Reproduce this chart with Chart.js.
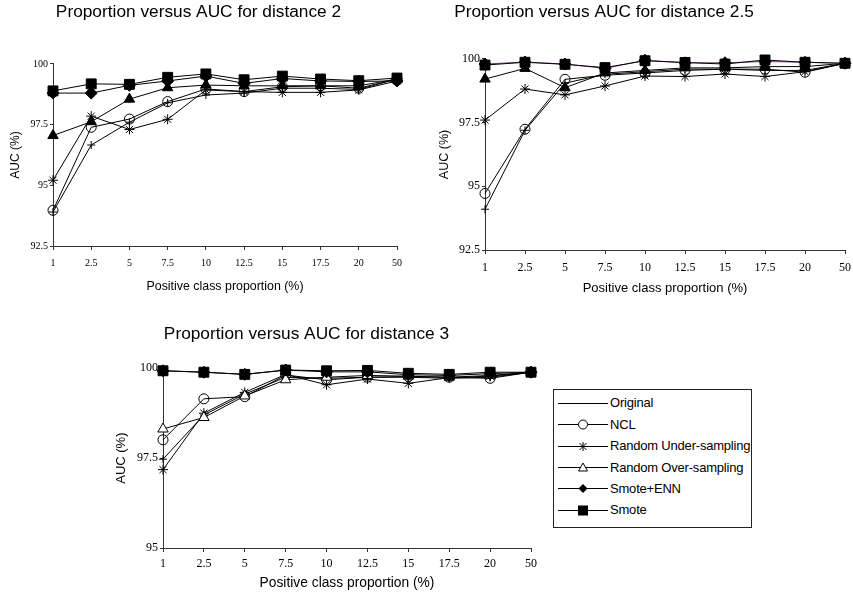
<!DOCTYPE html>
<html>
<head>
<meta charset="utf-8">
<script src="https://cdn.jsdelivr.net/npm/chart.js@4.4.1/dist/chart.umd.min.js"></script>
<style>
  html, body { margin:0; padding:0; background:#fff; width:853px; height:593px; overflow:hidden; position:relative; }
  canvas { position:absolute; }
  #legend { position:absolute; left:553px; top:389px; width:199px; height:139px; border:1px solid #222; box-sizing:border-box; font-family:Arial, "Liberation Sans", sans-serif; font-size:13px; letter-spacing:-0.2px; color:#000; }
  .row { position:absolute; left:0; height:18px; display:flex; align-items:center; }
  .row svg { margin-left:3px; }
  .row span { margin-left:1px; white-space:nowrap; }
</style>
</head>
<body>
<canvas id="c1"></canvas>
<canvas id="c2"></canvas>
<canvas id="c3"></canvas>
<div id="legend"></div>
<script>
// ---------- DATA ----------
const categories = ['1', '2.5', '5', '7.5', '10', '12.5', '15', '17.5', '20', '50'];
const seriesNames = ['Original', 'NCL', 'Random Under-sampling', 'Random Over-sampling', 'Smote+ENN', 'Smote'];
const titles = ['Proportion versus AUC for distance 2', 'Proportion versus AUC for distance 2.5', 'Proportion versus AUC for distance 3'];
const xAxisTitle = 'Positive class proportion (%)';
const yAxisTitle = 'AUC (%)';

// distance 2
const original2 = [93.9, 96.66, 97.6, 98.4, 98.72, 98.8, 99.0, 99.0, 98.95, 99.38];
const ncl2      = [93.97, 97.39, 97.73, 98.45, 98.97, 98.86, 99.06, 99.1, 99.0, 99.38];
const under2    = [95.21, 97.85, 97.3, 97.72, 98.93, 98.86, 98.83, 98.83, 98.93, 99.3];
const over2     = [97.05, 97.62, 98.55, 99.02, 99.13, 99.1, 99.1, 99.1, 99.1, 99.38];
const enn2      = [98.8, 98.8, 99.12, 99.3, 99.5, 99.2, 99.4, 99.3, 99.28, 99.3];
const smote2    = [98.89, 99.18, 99.16, 99.45, 99.59, 99.35, 99.5, 99.38, 99.31, 99.42];

// distance 2.5
const original25 = [94.1, 97.2, 99.05, 99.4, 99.5, 99.6, 99.6, 99.55, 99.55, 99.83];
const ncl25      = [94.72, 97.24, 99.2, 99.36, 99.45, 99.55, 99.6, 99.6, 99.48, 99.83];
const under25    = [97.6, 98.82, 98.59, 98.94, 99.33, 99.31, 99.41, 99.31, 99.5, 99.83];
const over25     = [99.21, 99.63, 98.87, 99.45, 99.55, 99.65, 99.65, 99.7, 99.7, 99.83];
const enn25      = [99.8, 99.88, 99.8, 99.63, 99.95, 99.85, 99.85, 99.9, 99.87, 99.83];
const smote25    = [99.76, 99.87, 99.79, 99.66, 99.93, 99.86, 99.8, 99.96, 99.87, 99.83];

// distance 3
const original3 = [97.47, 98.7, 99.28, 99.75, 99.72, 99.75, 99.75, 99.72, 99.75, 99.89];
const ncl3      = [98.01, 99.15, 99.21, 99.81, 99.68, 99.75, 99.77, 99.75, 99.72, 99.89];
const under3    = [97.18, 98.75, 99.33, 99.83, 99.54, 99.7, 99.58, 99.74, 99.78, 99.89];
const over3     = [98.31, 98.63, 99.23, 99.68, 99.75, 99.8, 99.78, 99.75, 99.8, 99.89];
const enn3      = [99.93, 99.89, 99.83, 99.95, 99.9, 99.9, 99.82, 99.8, 99.85, 99.89];
const smote3    = [99.93, 99.89, 99.83, 99.95, 99.93, 99.94, 99.86, 99.83, 99.89, 99.89];

const yTicks2 = [92.5, 95, 97.5, 100];
const yTicks3 = [95, 97.5, 100];

// ---------- STYLE ----------
const markerStyles = [
  { pointStyle: 'cross',    radius: 4, filled: false },
  { pointStyle: 'circle',   radius: 5, filled: false },
  { pointStyle: 'star',     radius: 5, filled: false },
  { pointStyle: 'triangle', radius: 6, filled: true  },
  { pointStyle: 'rectRot',  radius: 6, filled: true  },
  { pointStyle: 'rect',     radius: 7, filled: true  }
];

const serif = "'Liberation Serif', 'Times New Roman', serif";
const sans = "'Liberation Sans', Arial, sans-serif";
const TITLE_SIZE = 17.3;

function buildDatasets(seriesList, opts) {
  return seriesList.map((vals, i) => {
    const m = markerStyles[i];
    let filled = m.filled;
    if (i === 3 && opts.hollowTriangle) filled = false;
    const lineColor = (opts.purpleIndex === i) ? '#7d3f86' : '#000';
    return {
      label: seriesNames[i],
      data: vals,
      borderColor: lineColor,
      borderWidth: 1,
      pointStyle: m.pointStyle,
      pointRadius: m.radius,
      pointBorderColor: '#000',
      pointBorderWidth: 1,
      pointBackgroundColor: filled ? '#000' : (i === 3 ? '#fff' : 'rgba(0,0,0,0)'),
      tension: 0,
      clip: false,
      order: 6 - i
    };
  });
}

function makeChart(id, g, titleText, seriesList, ticks, opts) {
  const cv = document.getElementById(id);
  cv.width = g.w; cv.height = g.h;
  cv.style.left = g.left + 'px'; cv.style.top = g.top + 'px';
  cv.style.width = g.w + 'px'; cv.style.height = g.h + 'px';
  return new Chart(cv, {
    type: 'line',
    data: { labels: categories, datasets: buildDatasets(seriesList, opts) },
    options: {
      responsive: false,
      animation: false,
      devicePixelRatio: 1,
      layout: { padding: { left: g.padL, right: g.padR, top: 0, bottom: 0 } },
      plugins: {
        legend: { display: false },
        tooltip: { enabled: false },
        title: {
          display: true,
          text: titleText,
          color: '#000',
          font: { family: sans, size: TITLE_SIZE, weight: 'normal', lineHeight: 1.2 },
          padding: { top: g.tTop, bottom: g.tBottom }
        }
      },
      scales: {
        x: {
          type: 'category',
          offset: false,
          grid: { display: true, drawOnChartArea: false, drawTicks: true, tickLength: 4, color: '#333', offset: false },
          border: { display: true, color: '#333', width: 1 },
          ticks: { color: '#000', font: { family: serif, size: g.tickSize }, padding: g.xTickPad, maxRotation: 0, autoSkip: false },
          title: { display: true, text: xAxisTitle, color: '#000', font: { family: sans, size: g.xTitleSize }, padding: { top: 0, bottom: 1 } },
          afterFit: (s) => { s.height = g.xH; }
        },
        y: {
          type: 'linear',
          min: ticks[0], max: ticks[ticks.length - 1],
          afterBuildTicks: (s) => { s.ticks = ticks.map(v => ({ value: v })); },
          grid: { display: true, drawOnChartArea: false, drawTicks: true, tickLength: 3, color: '#333' },
          border: { display: true, color: '#333', width: 1 },
          ticks: { color: '#000', font: { family: serif, size: g.tickSize }, padding: 2,
                   callback: (v) => String(v) },
          title: { display: true, text: yAxisTitle, color: '#000', font: { family: sans, size: g.yTitleSize }, padding: { top: g.yTitlePad, bottom: 0 } },
          afterFit: (s) => { s.width = g.yW; }
        }
      }
    }
  });
}

// Chart 1 : plot area x 53..397, y 64..246
makeChart('c1',
  { left: -13, top: 0, w: 423, h: 295, padL: 13, padR: 13, yW: 53, xH: 49, tTop: 1.6, tBottom: 41.6,
    tickSize: 10, xTickPad: 7, xTitleSize: 12.4, yTitleSize: 12, yTitlePad: 8 },
  titles[0], [original2, ncl2, under2, over2, enn2, smote2], yTicks2, { hollowTriangle: false });

// Chart 2 : plot area x 485..845, y 59..250
makeChart('c2',
  { left: 348, top: 0, w: 512, h: 297, padL: 15, padR: 15, yW: 122, xH: 47, tTop: 1.6, tBottom: 36.6,
    tickSize: 12, xTickPad: 7, xTitleSize: 13, yTitleSize: 12.5, yTitlePad: 74.5 },
  titles[1], [original25, ncl25, under25, over25, enn25, smote25], yTicks2, { hollowTriangle: false, purpleIndex: 4 });

// Chart 3 : plot area x 163..531, y 368..548
makeChart('c3',
  { left: 68, top: 300, w: 477, h: 292, padL: 14, padR: 14, yW: 81, xH: 44, tTop: 23.6, tBottom: 23.9,
    tickSize: 12, xTickPad: 5, xTitleSize: 13.8, yTitleSize: 13, yTitlePad: 31.2 },
  titles[2], [original3, ncl3, under3, over3, enn3, smote3], yTicks3, { hollowTriangle: true });

// ---------- LEGEND (HTML) ----------
function markerSvg(i) {
  const cx = 26, cy = 9.5;
  let s = '<line x1="1" y1="9.5" x2="51" y2="9.5" stroke="#000" stroke-width="1"/>';
  if (i === 1) s += `<circle cx="${cx}" cy="${cy}" r="4.5" fill="#fff" stroke="#000"/>`;
  if (i === 2) s += `<path d="M22.5 6 L29.5 13 M29.5 6 L22.5 13 M26 5 L26 14" stroke="#000" stroke-width="1"/>`;
  if (i === 3) s += `<path d="M26 5 L30.5 13 L21.5 13 Z" fill="#fff" stroke="#000"/>`;
  if (i === 4) s += `<path d="M26 5 L30.5 9.5 L26 14 L21.5 9.5 Z" fill="#000"/>`;
  if (i === 5) s += `<rect x="21" y="4.5" width="10" height="10" fill="#000"/>`;
  return `<svg width="52" height="18" viewBox="0 0 52 18">${s}</svg>`;
}
const legendEl = document.getElementById('legend');
const rowCenters = [12.7, 34, 55.5, 77, 98, 119.5];
seriesNames.forEach((name, i) => {
  const row = document.createElement('div');
  row.className = 'row';
  row.style.top = (rowCenters[i] - 9) + 'px';
  row.innerHTML = markerSvg(i) + '<span>' + name + '</span>';
  legendEl.appendChild(row);
});
</script>
</body>
</html>
